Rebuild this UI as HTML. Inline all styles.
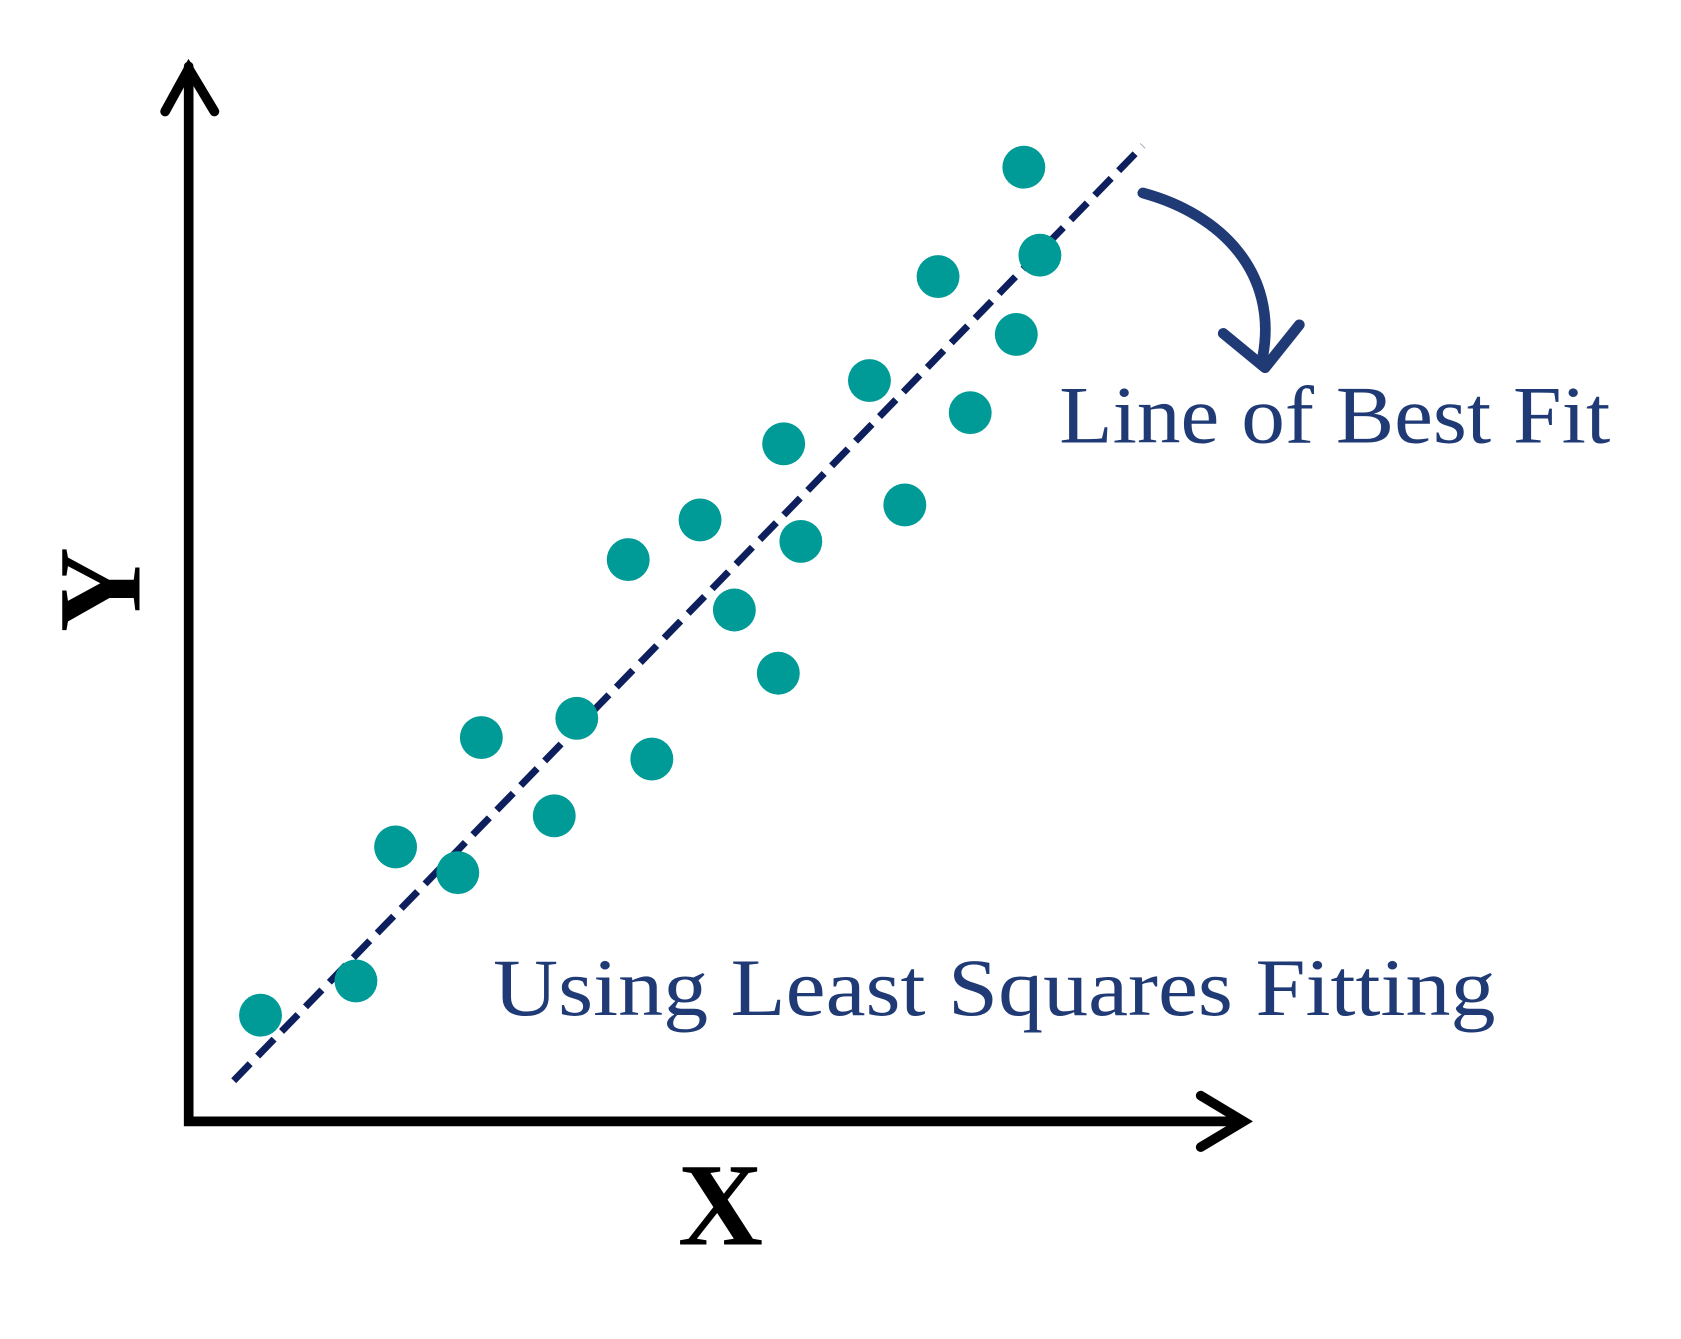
<!DOCTYPE html>
<html><head><meta charset="utf-8"><style>html,body{margin:0;padding:0;background:#fff}svg{display:block}</style></head>
<body>
<svg width="1681" height="1339" viewBox="0 0 1568 1249" preserveAspectRatio="none" xmlns="http://www.w3.org/2000/svg">
<rect width="1568" height="1249" fill="#fff"/>
<g stroke="#000" stroke-width="9" fill="none" stroke-linecap="round" stroke-linejoin="miter">
<polyline points="176,62 176,1046 1158,1046"/>
<polyline points="154,104 176,64 200,104"/>
<polyline points="1120,1022 1160,1046 1120,1070"/>
</g>
<line x1="218" y1="1008" x2="1066" y2="136" stroke="#0d1f5c" stroke-width="6.5" stroke-dasharray="22,10"/>
<g fill="#009b96">
<circle cx="243" cy="947" r="20"/><circle cx="332" cy="915" r="20"/><circle cx="369" cy="790" r="20"/>
<circle cx="427" cy="814" r="20"/><circle cx="449" cy="688" r="20"/><circle cx="517" cy="761" r="20"/>
<circle cx="538" cy="670" r="20"/><circle cx="608" cy="708" r="20"/><circle cx="586" cy="522" r="20"/>
<circle cx="653" cy="485" r="20"/><circle cx="685" cy="569" r="20"/><circle cx="726" cy="628" r="20"/>
<circle cx="747" cy="505" r="20"/><circle cx="731" cy="414" r="20"/><circle cx="811" cy="355" r="20"/>
<circle cx="844" cy="471" r="20"/><circle cx="905" cy="385" r="20"/><circle cx="875" cy="258" r="20"/>
<circle cx="948" cy="312" r="20"/><circle cx="970" cy="238" r="20"/><circle cx="955" cy="156" r="20"/>
</g>
<g stroke="#1f3a75" stroke-width="10" fill="none" stroke-linecap="round" stroke-linejoin="round">
<path d="M1066,180 C1140,200 1192,255 1178,332"/>
<polyline points="1141,311 1180,343 1212,303"/>
</g>
<g font-family="Liberation Serif, serif" fill="#1f3a75" font-size="76">
<text x="988" y="413" textLength="514" lengthAdjust="spacingAndGlyphs">Line of Best Fit</text>
<text x="460" y="947" textLength="935" lengthAdjust="spacingAndGlyphs">Using Least Squares Fitting</text>
</g>
<g font-family="Liberation Serif, serif" font-weight="bold" fill="#000" font-size="110">
<text x="672" y="1161" text-anchor="middle">X</text>
<text transform="translate(130,550) rotate(-90)" text-anchor="middle">Y</text>
</g>
</svg>
</body></html>
